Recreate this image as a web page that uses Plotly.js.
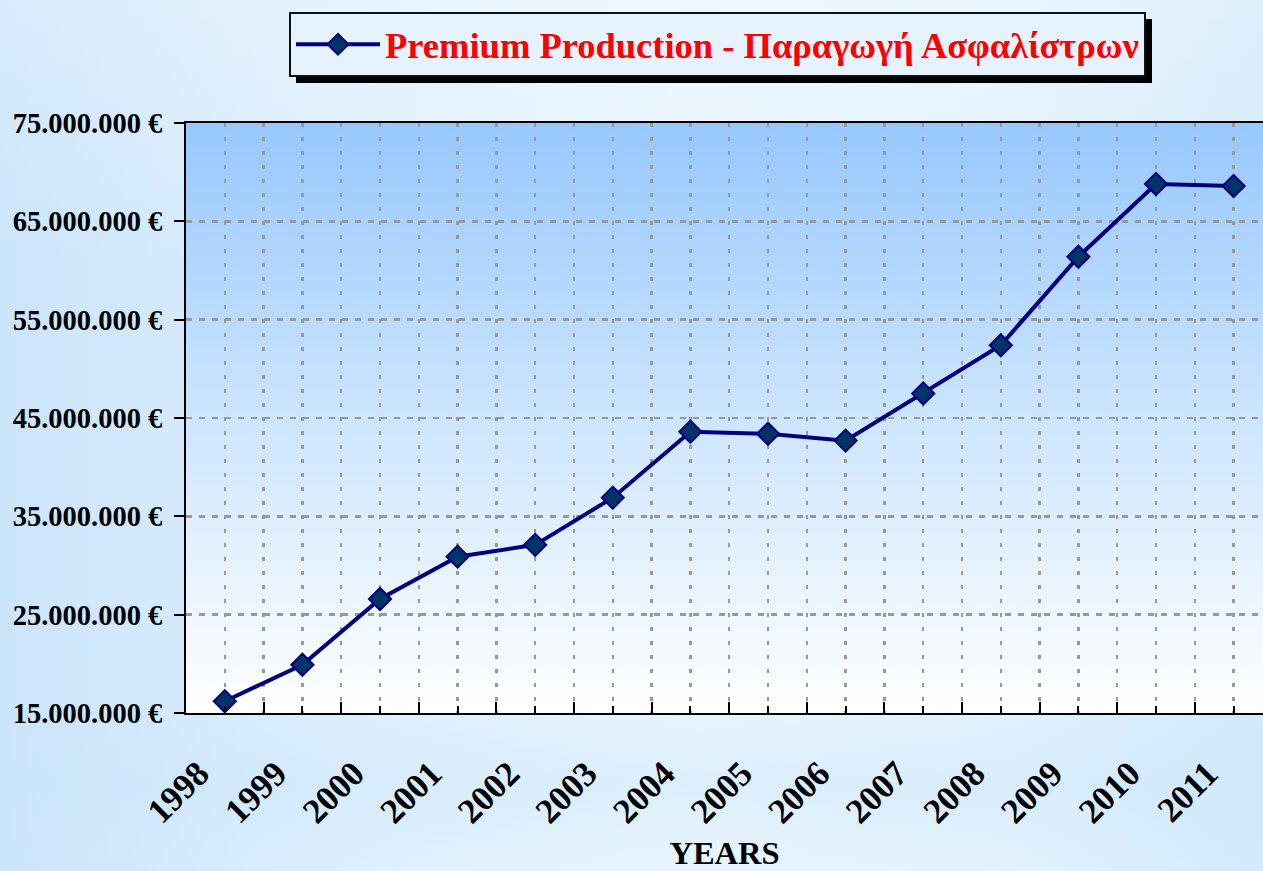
<!DOCTYPE html>
<html>
<head>
<meta charset="utf-8">
<script src="https://cdn.plot.ly/plotly-3.0.1.min.js"></script>
<style>
  html, body { margin: 0; padding: 0; width: 1263px; height: 871px; overflow: hidden; }
  body {
    background:
      linear-gradient(to bottom, rgba(255,255,255,0.25) 0%, rgba(255,255,255,0) 30%, rgba(255,255,255,0) 80%, rgba(200,228,250,0.35) 90%, rgba(255,255,255,0) 100%),
      linear-gradient(to right, #cbe5fb 0%, #dff0fe 30%, #e8f5ff 55%, #e2f2fe 80%, #d3eafc 100%);
  }
  #chart { width: 1263px; height: 871px; }
</style>
</head>
<body>
<div id="chart"></div>
<script>
// ---- data ----
const years = [1998, 1999, 2000, 2001, 2002, 2003, 2004, 2005, 2006, 2007, 2008, 2009, 2010, 2011];
const premiums = [16200000, 19900000, 26600000, 30900000, 32100000, 36900000, 43600000,
                  43400000, 42700000, 47500000, 52400000, 61400000, 68800000, 68600000];
const seriesName = 'Premium Production - Παραγωγή Ασφαλίστρων';
const yTicks = [15000000, 25000000, 35000000, 45000000, 55000000, 65000000, 75000000];
const yTickLabels = ['15.000.000 €', '25.000.000 €', '35.000.000 €', '45.000.000 €',
                     '55.000.000 €', '65.000.000 €', '75.000.000 €'];
const xTitle = 'YEARS';

// ---- styling ----
const W = 1263, H = 871;
const M = { l: 186, r: 0, t: 123, b: 158 };
const pw = W - M.l - M.r, ph = H - M.t - M.b;
const serif = 'Liberation Serif, Times New Roman, serif';

const gradSvg = "<svg xmlns='http://www.w3.org/2000/svg' viewBox='0 0 100 100' preserveAspectRatio='none' width='100' height='100'>" +
  "<defs><linearGradient id='g' x1='0' y1='0' x2='0' y2='1'>" +
  "<stop offset='0' stop-color='#97c8fd'/><stop offset='0.55' stop-color='#d2e8fe'/><stop offset='1' stop-color='#ffffff'/>" +
  "</linearGradient></defs><rect x='0' y='0' width='100' height='100' fill='url(#g)'/></svg>";
const gradUri = 'data:image/svg+xml;charset=utf-8,' + encodeURIComponent(gradSvg);

const px = v => (v - M.l) / pw;
const py = v => (H - M.b - v) / ph;

const trace = {
  x: years,
  y: premiums,
  name: seriesName,
  type: 'scatter',
  mode: 'lines+markers',
  line: { color: '#000080', width: 4 },
  marker: { symbol: 'diamond', size: 17, color: '#003366', line: { color: '#000080', width: 2 } },
  showlegend: true,
  cliponaxis: false
};

const layout = {
  width: W, height: H,
  margin: M,
  paper_bgcolor: 'rgba(0,0,0,0)',
  plot_bgcolor: 'rgba(0,0,0,0)',
  font: { family: serif, color: '#000000' },
  showlegend: true,
  legend: {
    x: px(289), y: py(12), xanchor: 'left', yanchor: 'top',
    bgcolor: '#e6f3fe', bordercolor: '#111111', borderwidth: 2,
    font: { family: serif, size: 36.5, color: '#ff0000', weight: 'bold' },
    itemwidth: 84
  },
  images: [{
    source: gradUri, xref: 'paper', yref: 'paper', x: 0, y: 1, sizex: 1, sizey: 1,
    xanchor: 'left', yanchor: 'top', sizing: 'stretch', layer: 'below'
  }],
  shapes: [],
  xaxis: {
    type: 'linear',
    range: [years[0] - 0.5, years[0] - 0.5 + pw / 77.6],
    tickvals: years,
    ticktext: years.map(String),
    tickangle: -45,
    tickfont: { family: serif, size: 35, color: '#000000', weight: 'bold' },
    ticks: 'inside', ticklen: 7, tickwidth: 2, tickcolor: '#000000',
    ticklabelstandoff: 24,
    ticklabelshift: -26,
    showline: true, linecolor: '#000000', linewidth: 2, mirror: true,
    showgrid: true, gridcolor: '#999999', gridwidth: 2.5, griddash: '4px,10px',
    zeroline: false,
    minor: {
      tick0: years[0] - 0.5, dtick: 1,
      ticks: 'inside', ticklen: 11, tickwidth: 2, tickcolor: '#000000',
      showgrid: true, gridcolor: '#999999', gridwidth: 2.5, griddash: '4px,10px'
    },
    title: { text: xTitle, font: { family: serif, size: 32.5, color: '#000000', weight: 'bold' }, standoff: 22 },
    automargin: false
  },
  yaxis: {
    range: [yTicks[0], yTicks[yTicks.length - 1]],
    tickvals: yTicks,
    ticktext: yTickLabels,
    tickfont: { family: serif, size: 28.5, color: '#000000', weight: 'bold' },
    ticks: 'outside', ticklen: 10, tickwidth: 2, tickcolor: '#000000',
    ticklabelstandoff: 6,
    showline: true, linecolor: '#000000', linewidth: 2,
    showgrid: true, gridcolor: '#999999', gridwidth: 2.5, griddash: '6px,7px',
    zeroline: false,
    automargin: false
  }
};

Plotly.newPlot('chart', [trace], layout, { displayModeBar: false, staticPlot: true }).then(gd => {
  // drop shadow behind the legend box, offset down-right
  const bg = gd.querySelector('.legend .bg');
  if (!bg) return;
  const r = bg.getBoundingClientRect();
  const c = gd.getBoundingClientRect();
  const L = r.left - c.left, T = r.top - c.top, R = r.right - c.left, B = r.bottom - c.top;
  return Plotly.relayout(gd, {
    shapes: [{
      type: 'rect', xref: 'paper', yref: 'paper',
      x0: px(L + 6), x1: px(R + 7), y0: py(B + 7), y1: py(T + 6),
      fillcolor: '#000000', line: { width: 0 }, layer: 'above'
    }]
  });
});
</script>
</body>
</html>
